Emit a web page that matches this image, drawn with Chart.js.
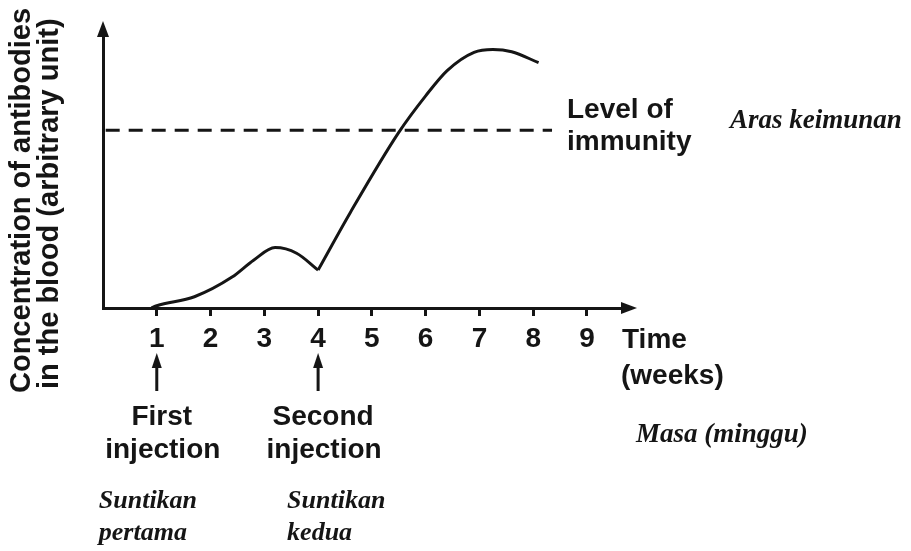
<!DOCTYPE html>
<html><head><meta charset="utf-8">
<script src="https://cdn.jsdelivr.net/npm/chart.js@4.4.1/dist/chart.umd.min.js"></script>
<style>html,body{margin:0;padding:0;background:#fff;}canvas{display:block;}</style>
</head><body>
<canvas id="c" width="911" height="551"></canvas>
<script>
// ---- data ----
const weekTicks = [1, 2, 3, 4, 5, 6, 7, 8, 9];
const firstPhaseWeeks  = [0.9, 1.0, 1.7, 2.4, 2.8, 3.2, 3.6, 4.0];
const firstPhaseValues = [0, 0.8, 4, 11, 17, 21.5, 19.5, 13.5];
const secondPhaseWeeks  = [4.0, 4.6, 5.5, 6.0, 6.4, 6.9, 7.25, 7.6, 8.1];
const secondPhaseValues = [13.5, 34, 62.5, 75.5, 84.5, 91, 92, 91.2, 87.3];
const immunityWeeks = [0.05, 8.35];
const immunityLevel = [63.3, 63.3];
const injectionWeeks = [1, 4];
const injectionLabels = [["First", "injection"], ["Second", "injection"]];
const injectionLabelsMalay = [["Suntikan", "pertama"], ["Suntikan", "kedua"]];
const yTitleLines = ["Concentration of antibodies", "in the blood (arbitrary unit)"];
const xTitleLines = ["Time", "(weeks)"];
const xTitleMalay = "Masa (minggu)";
const immunityLabelLines = ["Level of", "immunity"];
const immunityLabelMalay = "Aras keimunan";

const INK = '#151515';
const SANS = '"Liberation Sans", Arial, sans-serif';
const SERIF = '"Liberation Serif", "Times New Roman", serif';

const toPoints = (xs, ys) => xs.map((v, i) => ({x: v, y: ys[i]}));

const decor = {
  id: 'decor',
  afterDraw(chart) {
    const {ctx, chartArea: a, scales: {x}} = chart;
    ctx.save();
    ctx.fillStyle = INK;
    ctx.strokeStyle = INK;
    // y-axis arrowhead
    ctx.beginPath();
    ctx.moveTo(a.left, a.top - 6);
    ctx.lineTo(a.left - 6, a.top + 10);
    ctx.lineTo(a.left + 6, a.top + 10);
    ctx.closePath(); ctx.fill();
    // x-axis arrowhead
    ctx.beginPath();
    ctx.moveTo(a.right + 7, a.bottom);
    ctx.lineTo(a.right - 9, a.bottom - 6);
    ctx.lineTo(a.right - 9, a.bottom + 6);
    ctx.closePath(); ctx.fill();

    const text = (s, px, py, font, align) => {
      ctx.font = font; ctx.textAlign = align || 'left'; ctx.textBaseline = 'alphabetic';
      ctx.fillText(s, px, py);
    };
    const bold = 'bold 28px ' + SANS;
    const ital = 'italic bold 26px ' + SERIF;

    // y-axis title (rotated)
    [[22, 393], [50, 389]].forEach((p, i) => {
      ctx.save();
      ctx.translate(p[0], p[1]);
      ctx.rotate(-Math.PI / 2);
      ctx.font = 'bold 29px ' + SANS; ctx.textAlign = 'left'; ctx.textBaseline = 'middle';
      ctx.fillText(yTitleLines[i], 0, 0);
      ctx.restore();
    });

    // injection arrows and labels
    injectionWeeks.forEach((w, i) => {
      const px = x.getPixelForValue(w);
      ctx.lineWidth = 3;
      ctx.beginPath(); ctx.moveTo(px, 391); ctx.lineTo(px, 362); ctx.stroke();
      ctx.beginPath();
      ctx.moveTo(px, 353); ctx.lineTo(px - 5, 368); ctx.lineTo(px + 5, 368);
      ctx.closePath(); ctx.fill();
      text(injectionLabels[i][0], px + 5, 425, bold, 'center');
      text(injectionLabels[i][1], px + 6, 458, bold, 'center');
      const lx = px - 58 + (i === 1 ? 27 : 0);
      text(injectionLabelsMalay[i][0], lx, 508, ital, 'left');
      text(injectionLabelsMalay[i][1], lx, 540, ital, 'left');
    });

    // x-axis title
    text(xTitleLines[0], a.right - 8, 348, bold);
    text(xTitleLines[1], a.right - 9, 384, bold);
    text(xTitleMalay, 636, 442, 'italic bold 27px ' + SERIF);

    // immunity label
    text(immunityLabelLines[0], 567, 118, bold);
    text(immunityLabelLines[1], 567, 150, bold);
    text(immunityLabelMalay, 730, 128, 'italic bold 27px ' + SERIF);
    ctx.restore();
  }
};

new Chart(document.getElementById('c'), {
  type: 'line',
  data: {
    datasets: [
      {data: toPoints(firstPhaseWeeks, firstPhaseValues), borderColor: INK, borderWidth: 3,
       cubicInterpolationMode: 'monotone', pointRadius: 0, fill: false, clip: 8},
      {data: toPoints(secondPhaseWeeks, secondPhaseValues), borderColor: INK, borderWidth: 3,
       cubicInterpolationMode: 'monotone', pointRadius: 0, fill: false, clip: 8},
      {data: toPoints(immunityWeeks, immunityLevel), borderColor: INK, borderWidth: 3,
       borderDash: [14, 9], pointRadius: 0, tension: 0, fill: false, clip: 8}
    ]
  },
  options: {
    responsive: false,
    animation: false,
    events: [],
    layout: {padding: {left: 0, right: 281, top: 27, bottom: 0}},
    plugins: {legend: {display: false}, tooltip: {enabled: false}, title: {display: false}},
    scales: {
      x: {
        type: 'linear', min: 0, max: 9.8,
        afterBuildTicks: s => { s.ticks = weekTicks.map(v => ({value: v})); },
        afterFit: s => { s.height = 243; },
        ticks: {color: INK, font: {family: SANS, size: 28, weight: 'bold'}, padding: 6,
                maxRotation: 0, autoSkip: false},
        grid: {display: true, drawOnChartArea: false, drawTicks: true, tickLength: 8,
               lineWidth: 3, color: INK},
        border: {display: true, width: 3, color: INK}
      },
      y: {
        type: 'linear', min: 0, max: 100,
        afterFit: s => { s.width = 103; },
        ticks: {display: false},
        grid: {display: false, drawTicks: false},
        border: {display: true, width: 3, color: INK}
      }
    }
  },
  plugins: [decor]
});
</script>
</body></html>
